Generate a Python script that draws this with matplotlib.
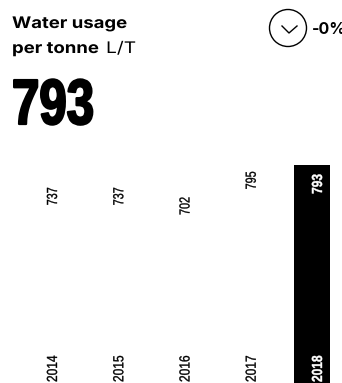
import matplotlib
matplotlib.use('Agg')
import matplotlib.pyplot as plt
from matplotlib.patches import Circle
from matplotlib.lines import Line2D
from matplotlib.patheffects import AbstractPathEffect
from matplotlib.transforms import Affine2D

years = ['2014', '2015', '2016', '2017', '2018']
values = [737, 737, 702, 795, 793]
bar_colors = ['white', 'white', 'white', 'white', 'black']
text_colors = ['black', 'black', 'black', 'black', 'white']
headline = '793'
change = '-0%'

W, H = 342, 383
FONT = 'Liberation Sans'
HEAD = 'Inter'


class Squeeze(AbstractPathEffect):
    """Scale glyphs along the text direction, optional stroke to fatten them"""

    def __init__(self, sx, lw=0):
        super().__init__()
        self.sx = sx
        self.lw = lw

    def draw_path(self, renderer, gc, tpath, affine, rgbFace=None):
        gc0 = renderer.new_gc()
        gc0.copy_properties(gc)
        gc0.set_linewidth(self.lw)
        if self.lw and rgbFace is not None:
            gc0.set_foreground(rgbFace)
        renderer.draw_path(gc0, tpath, Affine2D().scale(self.sx, 1) + affine, rgbFace)
        gc0.restore()


fig = plt.figure(figsize=(W / 100, H / 100), dpi=100)

# bars, zero sits on the bottom edge of the figure
ax = fig.add_axes([0, 0, 1, 1])
ax.bar(range(len(years)), values, width=36 / 66.25, color=bar_colors)
ax.set_xlim(-(47 / 66.25), (W - 47) / 66.25)
ax.set_ylim(0, H / 0.275)
ax.axis('off')

for i, (year, value) in enumerate(zip(years, values)):
    last = i == len(years) - 1
    weight = 'bold' if last else 'normal'
    lw = 0.3 if last else 0.25
    ax.annotate(str(value), (i, value), xytext=(6, -29 if last else -25), textcoords='offset pixels',
                rotation=90, ha='center', va='bottom', fontsize=10.5, family=FONT,
                color=text_colors[i], fontweight=weight,
                path_effects=[Squeeze(0.82 if last else 0.74, lw)])
    ax.annotate(year, (i, 0), xytext=(6, 1), textcoords='offset pixels',
                rotation=90, ha='center', va='bottom', fontsize=10.5, family=FONT,
                color=text_colors[i], fontweight=weight,
                path_effects=[Squeeze(0.82, lw)])

# header in pixel coordinates
over = fig.add_axes([0, 0, 1, 1])
over.set_xlim(0, W)
over.set_ylim(H, 0)
over.axis('off')
over.patch.set_alpha(0)

over.text(12, 28, 'Water usage', fontsize=11.5, fontweight='bold', family=HEAD, va='baseline',
          path_effects=[Squeeze(1.16)])
over.text(12, 53, 'per tonne', fontsize=11.5, fontweight='bold', family=HEAD, va='baseline',
          path_effects=[Squeeze(1.16)])
over.text(106, 53, 'L/T', fontsize=11.5, family=HEAD, va='baseline', path_effects=[Squeeze(1.2)])
over.text(12, 124, headline, fontsize=46, fontweight='bold', family=FONT, va='baseline',
          path_effects=[Squeeze(0.77, 1.6)])

over.add_patch(Circle((288, 28), 18.5, fill=False, ec='black', lw=1))
over.add_line(Line2D([282, 289, 297], [26, 33, 26], color='black', lw=1))
over.text(312, 34, change, fontsize=11.5, fontweight='bold', family=HEAD, va='baseline', clip_on=True)

fig.savefig('out.png', dpi=100)
